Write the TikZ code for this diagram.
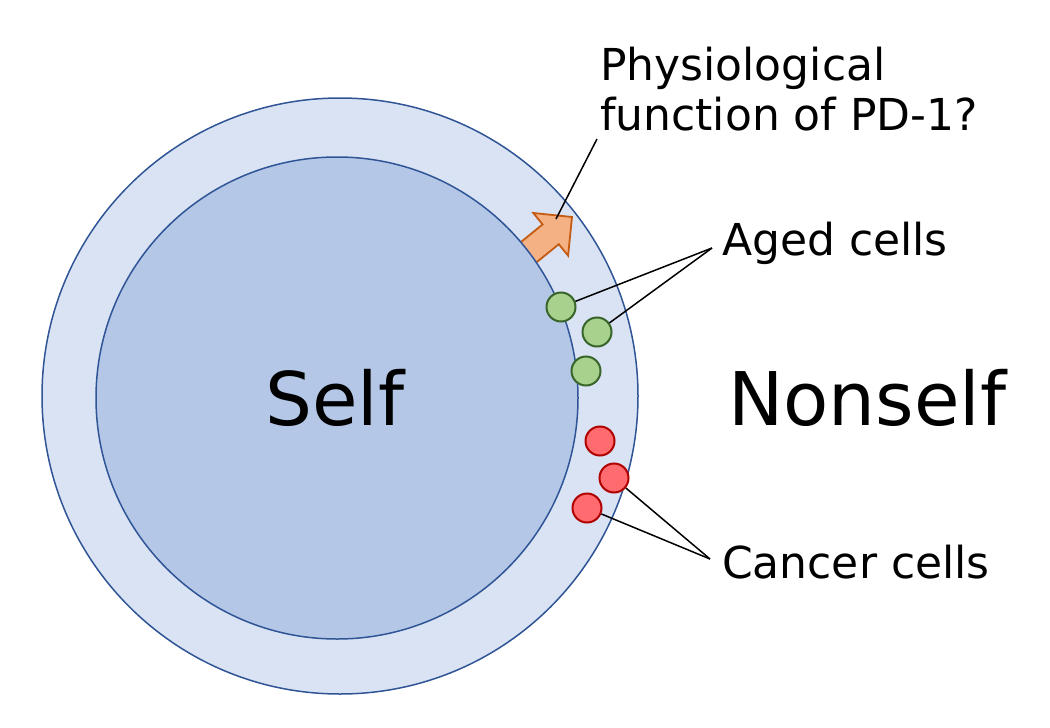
\documentclass[tikz,border=0pt]{standalone}
\usepackage{fontspec}
\setmainfont{DejaVu Sans}
\definecolor{ringfill}{HTML}{DAE3F3}
\definecolor{corefill}{HTML}{B4C7E7}
\definecolor{ringline}{HTML}{2F5597}
\definecolor{arrfill}{HTML}{F4B183}
\definecolor{arrline}{HTML}{C55A11}
\definecolor{agedfill}{HTML}{A9D18E}
\definecolor{agedline}{HTML}{38652A}
\definecolor{cancfill}{HTML}{FF6B6E}
\definecolor{cancline}{HTML}{B00000}
\tikzset{
  ring/.style={circle, draw=ringline, line width=1.5pt, inner sep=0pt},
  cell/.style={circle, line width=2pt, inner sep=0pt, minimum size=29pt},
  agedcell/.style={cell, draw=agedline, fill=agedfill},
  canccell/.style={cell, draw=cancline, fill=cancfill},
  leader/.style={draw=black, line width=1.5pt},
  lbl/.style={inner sep=0pt, font=\fontsize{44}{50}\selectfont},
  big/.style={inner sep=0pt, font=\fontsize{74}{80}\selectfont}
}
\begin{document}
\begin{tikzpicture}[x=1pt,y=-1pt]
\useasboundingbox (0,0) rectangle (1050,728);
% outer ring
\node[ring, fill=ringfill, minimum size=596pt] (outer) at (340,396) {};
% PD-1 arrow (tail hidden under the inner circle)
\draw[draw=arrline, fill=arrfill, line width=1.8pt, line join=miter]
  (513.1,248.4) -- (542.6,224.4) -- (533.3,213.0) -- (572,217)
  -- (568.1,255.6) -- (558.8,244.2) -- (529.3,268.2) -- cycle;
\coordinate (pdtip) at (556,219);
% inner circle
\node[ring, fill=corefill, minimum size=482pt] (inner) at (337,398) {};
% cells
\node[agedcell] (g1) at (561,307) {};
\node[agedcell] (g2) at (597,332) {};
\node[agedcell] (g3) at (586,371) {};
\node[canccell] (r1) at (600,441) {};
\node[canccell] (r2) at (614,478) {};
\node[canccell] (r3) at (587,508) {};
% texts
\node[big, anchor=base west] (self) at (265,425) {Self};
\node[big, anchor=base west] (nonself) at (728,425) {Nonself};
\node[lbl, anchor=base west, align=left] (pd) at (600,130) {Physiological\\function of PD-1?};
\node[lbl, anchor=base west] (aged) at (722,255) {Aged cells};
\node[lbl, anchor=base west] (cancer) at (722,578) {Cancer cells};
% leader lines
\coordinate (pdstart) at (597,139);
\coordinate (agedpt) at (712,248);
\coordinate (cancpt) at (710,559);
\draw[leader] (pdstart) -- (pdtip);
\draw[leader] (agedpt) -- (g1);
\draw[leader] (agedpt) -- (g2);
\draw[leader] (cancpt) -- (r2);
\draw[leader] (cancpt) -- (r3);
\end{tikzpicture}
\end{document}
